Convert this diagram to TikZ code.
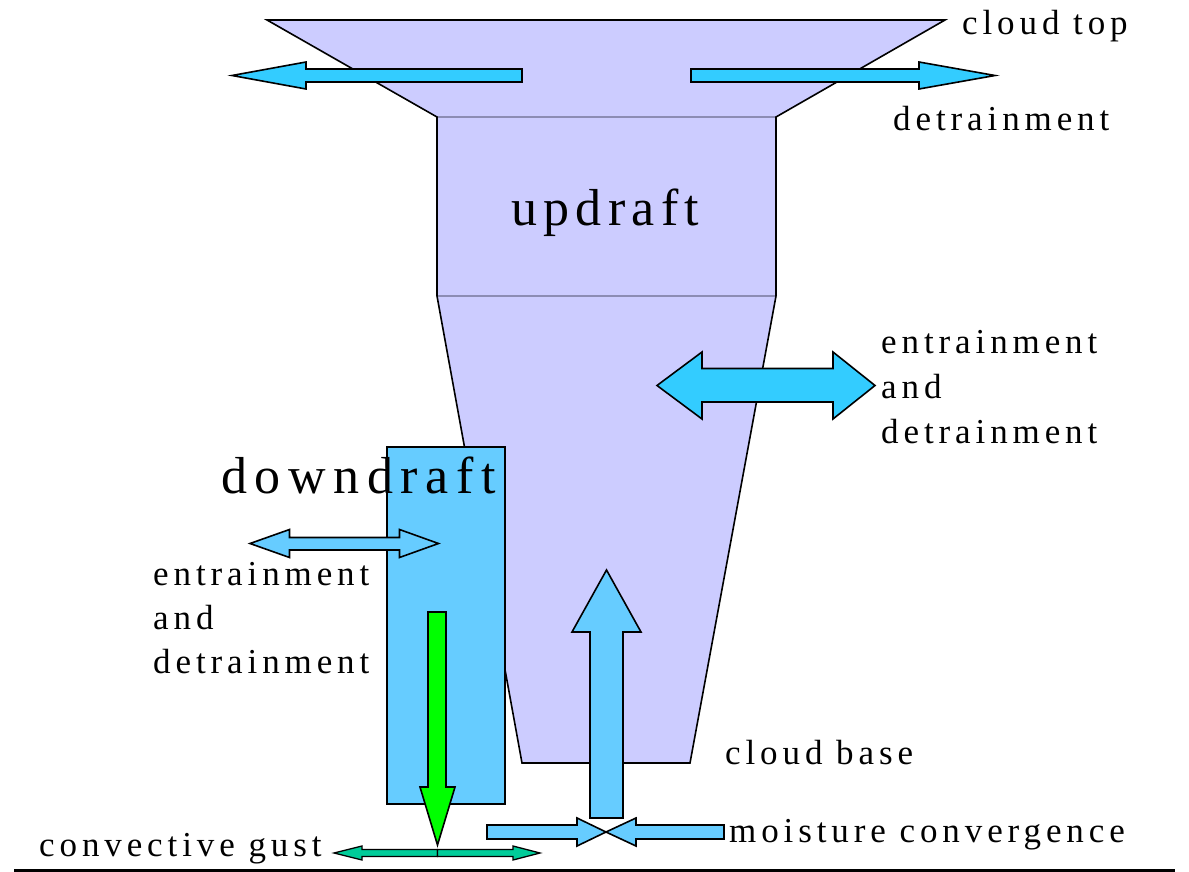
\documentclass[tikz,border=0pt]{standalone}
\usepackage{fontspec}
\setmainfont{Liberation Serif}
\newfontfamily\lblfont[LetterSpace=14]{Liberation Serif}
\newfontfamily\upfont[LetterSpace=12.2]{Liberation Serif}
\newfontfamily\downfont[LetterSpace=14.6]{Liberation Serif}
\definecolor{cloudc}{RGB}{204,204,255}
\definecolor{edgegrey}{RGB}{140,140,180}
\definecolor{downc}{RGB}{102,204,255}
\definecolor{cyanc}{RGB}{51,204,255}
\definecolor{greenc}{RGB}{0,255,0}
\definecolor{tealc}{RGB}{0,204,153}
\begin{document}
\begin{tikzpicture}[x=1pt,y=-1pt,
  lbl/.style={inner sep=0pt, anchor=base west, font=\lblfont\fontsize{35}{42}\selectfont},
  uplbl/.style={inner sep=0pt, anchor=base west, font=\upfont\fontsize{52}{60}\selectfont},
  downlbl/.style={inner sep=0pt, anchor=base west, font=\downfont\fontsize{52}{60}\selectfont},
  outline/.style={draw=black, line width=1.6pt, line join=miter},
  barrow/.style={draw=black, line width=1.6pt, line join=miter},
]
\useasboundingbox (0,0) rectangle (1189,872);

% cloud body
\fill[cloudc] (267,20) -- (945,20) -- (776,117) -- (776,296) -- (690,763)
  -- (522,763) -- (437,296) -- (437,117) -- cycle;
\draw[edgegrey, line width=1.2pt] (437,117) -- (776,117);
\draw[edgegrey, line width=1.2pt] (437,296) -- (776,296);
\draw[outline] (437,117) -- (267,20) -- (945,20) -- (776,117) -- (776,296)
  -- (690,763) -- (522,763) -- (437,296) -- cycle;
\draw[outline] (437,117) -- (437,296);

% downdraft column
\draw[outline, fill=downc] (387,447) rectangle (505,804);

% labels
\node[uplbl] (updraft) at (511,225) {updraft};
\node[downlbl] (downdraft) at (221,493) {downdraft};
\node[lbl] (cloudtop) at (962,35) {cloud top};
\node[lbl] (detrtop) at (893,131) {detrainment};
\node[lbl] (entR1) at (881,353) {entrainment};
\node[lbl] (entR2) at (881,398) {and};
\node[lbl] (entR3) at (881,443) {detrainment};
\node[lbl] (entL1) at (153,585) {entrainment};
\node[lbl] (entL2) at (153,629) {and};
\node[lbl] (entL3) at (153,673) {detrainment};
\node[lbl] (cloudbase) at (725,764) {cloud base};
\node[lbl] (moist) at (729,842) {moisture convergence};
\node[lbl] (gust) at (39,856) {convective gust};

% top detrainment arrows
\draw[barrow, fill=cyanc] (522,69) -- (306,69) -- (306,62) -- (232,75.5)
  -- (306,89) -- (306,82) -- (522,82) -- cycle;
\draw[barrow, fill=cyanc] (691,69) -- (919,69) -- (919,62) -- (995,75.5)
  -- (919,89) -- (919,82) -- (691,82) -- cycle;

% mid entrainment/detrainment arrow
\draw[barrow, fill=cyanc] (657,385.5) -- (702,352) -- (702,368.5) -- (833,368.5)
  -- (833,352) -- (875,385.5) -- (833,419) -- (833,402) -- (702,402)
  -- (702,419) -- cycle;

% downdraft entrainment arrow
\draw[barrow, fill=downc] (250,543.5) -- (289.5,529.5) -- (289.5,537.5)
  -- (399.5,537.5) -- (399.5,529.5) -- (438.5,543.5) -- (399.5,557.5)
  -- (399.5,550) -- (289.5,550) -- (289.5,557.5) -- cycle;

% downdraft green arrow
\draw[barrow, fill=greenc] (428,612) -- (446,612) -- (446,787) -- (455,787)
  -- (437.5,845) -- (420,787) -- (428,787) -- cycle;

% convective gust arrows
\draw[barrow, fill=tealc, line width=1.3pt] (437.5,849.5) -- (362,849.5) -- (362,846)
  -- (334,853) -- (362,860) -- (362,856.5) -- (437.5,856.5) -- cycle;
\draw[barrow, fill=tealc, line width=1.3pt] (437.5,849.5) -- (513,849.5) -- (513,846)
  -- (540,853) -- (513,860) -- (513,856.5) -- (437.5,856.5) -- cycle;

% updraft arrow
\draw[barrow, fill=downc] (590,818) -- (590,632) -- (572,632) -- (606.5,570)
  -- (641,632) -- (623,632) -- (623,818) -- cycle;

% moisture convergence arrows
\draw[barrow, fill=downc] (487,825) -- (577,825) -- (577,818) -- (606,832)
  -- (577,846) -- (577,839) -- (487,839) -- cycle;
\draw[barrow, fill=downc] (724,825) -- (636,825) -- (636,818) -- (606,832)
  -- (636,846) -- (636,839) -- (724,839) -- cycle;

% ground line
\draw[line width=2.5pt] (14,870.5) -- (1175,870.5);
\end{tikzpicture}
\end{document}
